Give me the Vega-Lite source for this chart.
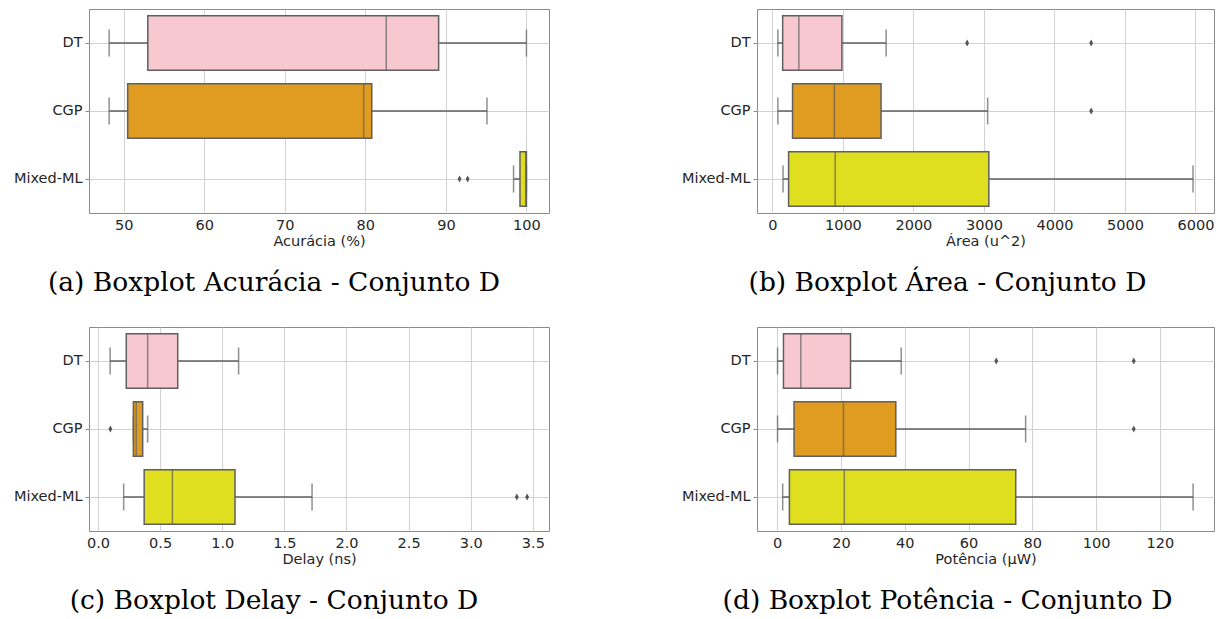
{
  "$schema": "https://vega.github.io/schema/vega-lite/v6.json",
  "background": "white",
  "padding": {"left": 12, "top": 8, "right": 0, "bottom": 0},
  "datasets": {
    "acc": [
      {"grupo": "DT", "min": 48.2, "q1": 53.0, "med": 82.6, "q3": 89.1, "max": 100},
      {"grupo": "CGP", "min": 48.2, "q1": 50.5, "med": 79.8, "q3": 80.8, "max": 95.1},
      {"grupo": "Mixed-ML", "min": 98.4, "q1": 99.2, "med": 99.9, "q3": 100, "max": 100}
    ],
    "acc_out": [
      {"grupo": "Mixed-ML", "valor": 91.7},
      {"grupo": "Mixed-ML", "valor": 92.7}
    ],
    "area": [
      {"grupo": "DT", "min": 78, "q1": 146, "med": 375, "q3": 986, "max": 1613},
      {"grupo": "CGP", "min": 78, "q1": 286, "med": 880, "q3": 1541, "max": 3053},
      {"grupo": "Mixed-ML", "min": 151, "q1": 230, "med": 891, "q3": 3070, "max": 5966}
    ],
    "area_out": [
      {"grupo": "DT", "valor": 2762},
      {"grupo": "DT", "valor": 4521},
      {"grupo": "CGP", "valor": 4521}
    ],
    "delay": [
      {"grupo": "DT", "min": 0.098, "q1": 0.228, "med": 0.40, "q3": 0.642, "max": 1.132},
      {"grupo": "CGP", "min": 0.285, "q1": 0.285, "med": 0.308, "q3": 0.36, "max": 0.40},
      {"grupo": "Mixed-ML", "min": 0.207, "q1": 0.372, "med": 0.599, "q3": 1.103, "max": 1.723}
    ],
    "delay_out": [
      {"grupo": "CGP", "valor": 0.10},
      {"grupo": "Mixed-ML", "valor": 3.371},
      {"grupo": "Mixed-ML", "valor": 3.454}
    ],
    "pot": [
      {"grupo": "DT", "min": 0.12, "q1": 1.98, "med": 7.43, "q3": 23.0, "max": 38.9},
      {"grupo": "CGP", "min": 0.12, "q1": 5.3, "med": 20.8, "q3": 37.2, "max": 77.9},
      {"grupo": "Mixed-ML", "min": 1.73, "q1": 3.84, "med": 21.05, "q3": 74.8, "max": 130.4}
    ],
    "pot_out": [
      {"grupo": "DT", "valor": 68.7},
      {"grupo": "DT", "valor": 111.8},
      {"grupo": "CGP", "valor": 111.8}
    ]
  },
  "vconcat": [
    {
      "hconcat": [
        {
          "width": 460, "height": 204,
          "title": {"text": "(a) Boxplot Acurácia - Conjunto D", "orient": "bottom", "anchor": "middle", "frame": "group", "dx": -45, "offset": 22},
          "data": {"name": "acc"},
          "encoding": {"y": {"field": "grupo", "type": "nominal", "sort": ["DT", "CGP", "Mixed-ML"], "scale": {"paddingInner": 0.2, "paddingOuter": 0.1}, "title": null}},
          "layer": [
            {"mark": {"type": "rule", "color": "#5f5f5f", "strokeWidth": 1.5},
             "encoding": {"x": {"field": "min", "type": "quantitative", "title": "Acurácia (%)", "scale": {"domain": [45.7, 102.8], "nice": false, "zero": false}, "axis": {"values": [50, 60, 70, 80, 90, 100]}}, "x2": {"field": "max"}}},
            {"mark": {"type": "bar", "stroke": "#5f5f5f", "strokeWidth": 1.5},
             "encoding": {"x": {"field": "q1", "type": "quantitative", "title": "Acurácia (%)"}, "x2": {"field": "q3"},
               "color": {"field": "grupo", "type": "nominal", "scale": {"domain": ["DT", "CGP", "Mixed-ML"], "range": ["#F7C8D0", "#DF9C20", "#DFDF20"]}, "legend": null}}},
            {"mark": {"type": "tick", "color": "#5f5f5f", "thickness": 1.5, "size": 54},
             "encoding": {"x": {"field": "med", "type": "quantitative", "title": "Acurácia (%)"}}},
            {"mark": {"type": "tick", "color": "#5f5f5f", "thickness": 1.5, "size": 27},
             "encoding": {"x": {"field": "min", "type": "quantitative", "title": "Acurácia (%)"}}},
            {"mark": {"type": "tick", "color": "#5f5f5f", "thickness": 1.5, "size": 27},
             "encoding": {"x": {"field": "max", "type": "quantitative", "title": "Acurácia (%)"}}},
            {"data": {"name": "acc_out"},
             "mark": {"type": "point", "shape": "M0,-1L0.55,0L0,1L-0.55,0Z", "size": 49, "filled": true, "color": "#555555", "opacity": 1},
             "encoding": {"x": {"field": "valor", "type": "quantitative", "title": "Acurácia (%)"}}}
          ]
        },
        {
          "width": 457, "height": 204,
          "title": {"text": "(b) Boxplot Área - Conjunto D", "orient": "bottom", "anchor": "middle", "frame": "group", "dx": -38, "offset": 22},
          "data": {"name": "area"},
          "encoding": {"y": {"field": "grupo", "type": "nominal", "sort": ["DT", "CGP", "Mixed-ML"], "scale": {"paddingInner": 0.2, "paddingOuter": 0.1}, "title": null}},
          "layer": [
            {"mark": {"type": "rule", "color": "#5f5f5f", "strokeWidth": 1.5},
             "encoding": {"x": {"field": "min", "type": "quantitative", "title": "Área (u^2)", "scale": {"domain": [-218, 6263], "nice": false, "zero": false}, "axis": {"values": [0, 1000, 2000, 3000, 4000, 5000, 6000], "format": "d"}}, "x2": {"field": "max"}}},
            {"mark": {"type": "bar", "stroke": "#5f5f5f", "strokeWidth": 1.5},
             "encoding": {"x": {"field": "q1", "type": "quantitative", "title": "Área (u^2)"}, "x2": {"field": "q3"},
               "color": {"field": "grupo", "type": "nominal", "scale": {"domain": ["DT", "CGP", "Mixed-ML"], "range": ["#F7C8D0", "#DF9C20", "#DFDF20"]}, "legend": null}}},
            {"mark": {"type": "tick", "color": "#5f5f5f", "thickness": 1.5, "size": 54},
             "encoding": {"x": {"field": "med", "type": "quantitative", "title": "Área (u^2)"}}},
            {"mark": {"type": "tick", "color": "#5f5f5f", "thickness": 1.5, "size": 27},
             "encoding": {"x": {"field": "min", "type": "quantitative", "title": "Área (u^2)"}}},
            {"mark": {"type": "tick", "color": "#5f5f5f", "thickness": 1.5, "size": 27},
             "encoding": {"x": {"field": "max", "type": "quantitative", "title": "Área (u^2)"}}},
            {"data": {"name": "area_out"},
             "mark": {"type": "point", "shape": "M0,-1L0.55,0L0,1L-0.55,0Z", "size": 49, "filled": true, "color": "#555555", "opacity": 1},
             "encoding": {"x": {"field": "valor", "type": "quantitative", "title": "Área (u^2)"}}}
          ]
        }
      ],
      "spacing": 130
    },
    {
      "hconcat": [
        {
          "width": 460, "height": 204,
          "title": {"text": "(c) Boxplot Delay - Conjunto D", "orient": "bottom", "anchor": "middle", "frame": "group", "dx": -45, "offset": 22},
          "data": {"name": "delay"},
          "encoding": {"y": {"field": "grupo", "type": "nominal", "sort": ["DT", "CGP", "Mixed-ML"], "scale": {"paddingInner": 0.2, "paddingOuter": 0.1}, "title": null}},
          "layer": [
            {"mark": {"type": "rule", "color": "#5f5f5f", "strokeWidth": 1.5},
             "encoding": {"x": {"field": "min", "type": "quantitative", "title": "Delay (ns)", "scale": {"domain": [-0.072, 3.63], "nice": false, "zero": false}, "axis": {"values": [0, 0.5, 1, 1.5, 2, 2.5, 3, 3.5], "format": ".1f"}}, "x2": {"field": "max"}}},
            {"mark": {"type": "bar", "stroke": "#5f5f5f", "strokeWidth": 1.5},
             "encoding": {"x": {"field": "q1", "type": "quantitative", "title": "Delay (ns)"}, "x2": {"field": "q3"},
               "color": {"field": "grupo", "type": "nominal", "scale": {"domain": ["DT", "CGP", "Mixed-ML"], "range": ["#F7C8D0", "#DF9C20", "#DFDF20"]}, "legend": null}}},
            {"mark": {"type": "tick", "color": "#5f5f5f", "thickness": 1.5, "size": 54},
             "encoding": {"x": {"field": "med", "type": "quantitative", "title": "Delay (ns)"}}},
            {"mark": {"type": "tick", "color": "#5f5f5f", "thickness": 1.5, "size": 27},
             "encoding": {"x": {"field": "min", "type": "quantitative", "title": "Delay (ns)"}}},
            {"mark": {"type": "tick", "color": "#5f5f5f", "thickness": 1.5, "size": 27},
             "encoding": {"x": {"field": "max", "type": "quantitative", "title": "Delay (ns)"}}},
            {"data": {"name": "delay_out"},
             "mark": {"type": "point", "shape": "M0,-1L0.55,0L0,1L-0.55,0Z", "size": 49, "filled": true, "color": "#555555", "opacity": 1},
             "encoding": {"x": {"field": "valor", "type": "quantitative", "title": "Delay (ns)"}}}
          ]
        },
        {
          "width": 457, "height": 204,
          "title": {"text": "(d) Boxplot Potência - Conjunto D", "orient": "bottom", "anchor": "middle", "frame": "group", "dx": -38, "offset": 22},
          "data": {"name": "pot"},
          "encoding": {"y": {"field": "grupo", "type": "nominal", "sort": ["DT", "CGP", "Mixed-ML"], "scale": {"paddingInner": 0.2, "paddingOuter": 0.1}, "title": null}},
          "layer": [
            {"mark": {"type": "rule", "color": "#5f5f5f", "strokeWidth": 1.5},
             "encoding": {"x": {"field": "min", "type": "quantitative", "title": "Potência (μW)", "scale": {"domain": [-6.32, 136.96], "nice": false, "zero": false}, "axis": {"values": [0, 20, 40, 60, 80, 100, 120]}}, "x2": {"field": "max"}}},
            {"mark": {"type": "bar", "stroke": "#5f5f5f", "strokeWidth": 1.5},
             "encoding": {"x": {"field": "q1", "type": "quantitative", "title": "Potência (μW)"}, "x2": {"field": "q3"},
               "color": {"field": "grupo", "type": "nominal", "scale": {"domain": ["DT", "CGP", "Mixed-ML"], "range": ["#F7C8D0", "#DF9C20", "#DFDF20"]}, "legend": null}}},
            {"mark": {"type": "tick", "color": "#5f5f5f", "thickness": 1.5, "size": 54},
             "encoding": {"x": {"field": "med", "type": "quantitative", "title": "Potência (μW)"}}},
            {"mark": {"type": "tick", "color": "#5f5f5f", "thickness": 1.5, "size": 27},
             "encoding": {"x": {"field": "min", "type": "quantitative", "title": "Potência (μW)"}}},
            {"mark": {"type": "tick", "color": "#5f5f5f", "thickness": 1.5, "size": 27},
             "encoding": {"x": {"field": "max", "type": "quantitative", "title": "Potência (μW)"}}},
            {"data": {"name": "pot_out"},
             "mark": {"type": "point", "shape": "M0,-1L0.55,0L0,1L-0.55,0Z", "size": 49, "filled": true, "color": "#555555", "opacity": 1},
             "encoding": {"x": {"field": "valor", "type": "quantitative", "title": "Potência (μW)"}}}
          ]
        }
      ],
      "spacing": 130
    }
  ],
  "spacing": 29,
  "config": {
    "view": {"stroke": "#8a8a8a", "strokeWidth": 1},
    "axis": {
      "gridColor": "#d2d2d2", "gridWidth": 1,
      "labelFont": "DejaVu Sans", "labelFontSize": 14.5, "labelColor": "#262626",
      "titleFont": "DejaVu Sans", "titleFontSize": 14.5, "titleFontWeight": "normal", "titleColor": "#262626",
      "labelFlush": false, "labelOverlap": false
    },
    "axisX": {"grid": true, "ticks": false, "domain": false, "labelPadding": 5, "titlePadding": 3},
    "axisY": {"grid": true, "ticks": true, "tickSize": 4, "tickColor": "#8a8a8a", "domain": false, "bandPosition": 0.5, "labelPadding": 3},
    "title": {"font": "DejaVu Serif", "fontSize": 26.5, "fontWeight": "normal", "color": "#000000"}
  }
}
